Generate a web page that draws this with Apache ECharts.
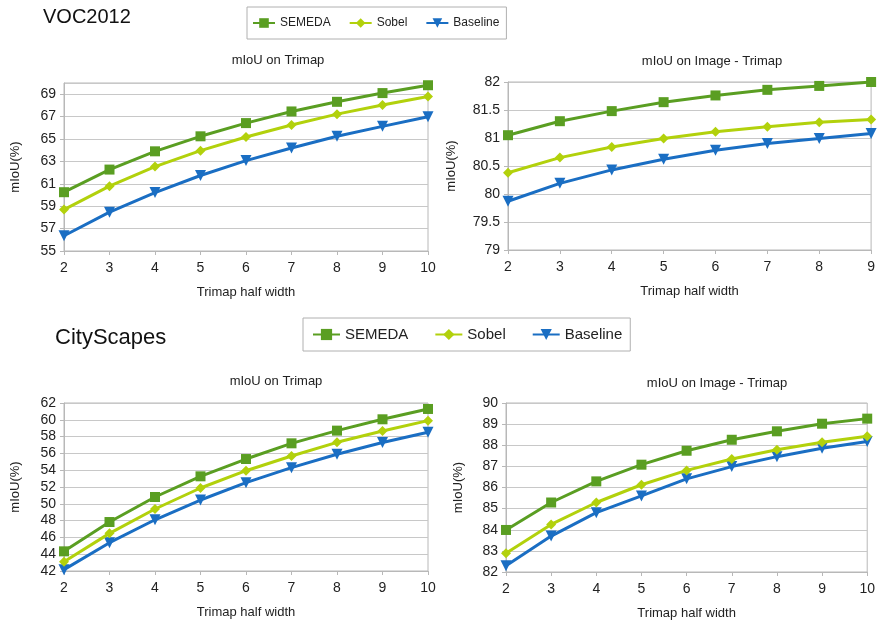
<!DOCTYPE html>
<html><head><meta charset="utf-8">
<script src="https://cdn.jsdelivr.net/npm/echarts@6/dist/echarts.min.js"></script>
<style>html,body{margin:0;padding:0;background:#fff}#c{width:878px;height:623px}</style>
</head><body><div id="c"></div>
<script>
// ---- data ----
const seriesNames = ['SEMEDA', 'Sobel', 'Baseline'];
const xVOC_trimap = ['2','3','4','5','6','7','8','9','10'];
const xVOC_image = ['2','3','4','5','6','7','8','9'];
const xCity = ['2','3','4','5','6','7','8','9','10'];

const vocTrimapSEMEDA = [60.25, 62.27, 63.9, 65.24, 66.42, 67.46, 68.32, 69.1, 69.8];
const vocTrimapSobel = [58.7, 60.79, 62.54, 63.96, 65.18, 66.25, 67.22, 68.03, 68.8];
const vocTrimapBaseline = [56.36, 58.47, 60.22, 61.74, 63.07, 64.2, 65.24, 66.13, 66.99];

const vocImageSEMEDA = [81.05, 81.30, 81.48, 81.64, 81.76, 81.86, 81.93, 82.0];
const vocImageSobel = [80.38, 80.65, 80.84, 80.99, 81.11, 81.20, 81.28, 81.33];
const vocImageBaseline = [79.87, 80.19, 80.43, 80.62, 80.78, 80.90, 80.99, 81.08];

const cityTrimapSEMEDA = [44.34, 47.83, 50.81, 53.27, 55.33, 57.2, 58.71, 60.06, 61.29];
const cityTrimapSobel = [43.11, 46.48, 49.38, 51.88, 53.94, 55.69, 57.32, 58.67, 59.9];
const cityTrimapBaseline = [42.16, 45.37, 48.1, 50.45, 52.52, 54.3, 55.9, 57.29, 58.52];

const cityImageSEMEDA = [83.99, 85.29, 86.29, 87.08, 87.74, 88.26, 88.66, 89.02, 89.26];
const cityImageSobel = [82.89, 84.25, 85.29, 86.13, 86.81, 87.35, 87.79, 88.14, 88.43];
const cityImageBaseline = [82.3, 83.7, 84.81, 85.6, 86.41, 86.99, 87.46, 87.86, 88.18];

const chartTitles = ['mIoU on Trimap', 'mIoU on Image - Trimap', 'mIoU on Trimap', 'mIoU on Image - Trimap'];
const xName = 'Trimap half width';
const yName = 'mIoU(%)';

// ---- styling ----
const FONT = '"Liberation Sans", Arial, sans-serif';
const colors = ['#5a9e22', '#b2d10c', '#1a6ec3'];
const symbols = ['rect', 'diamond', 'triangle'];
const symSizes = [10, 10, 11];
const symRot = [0, 0, 180];

const grids = [
  {left: 64, top: 83, width: 364, height: 168},
  {left: 508, top: 82, width: 364, height: 168},
  {left: 64, top: 403, width: 364, height: 168},
  {left: 506, top: 403, width: 363, height: 169}
];
const yCfg = [
  {min: 55, max: 70, interval: 2, hideMax: true, nameGap: 42},
  {min: 79, max: 82, interval: 0.5, hideMax: false, nameGap: 50},
  {min: 42, max: 62, interval: 2, hideMax: false, nameGap: 42},
  {min: 82, max: 90, interval: 1, hideMax: false, nameGap: 41}
];
const xCats = [xVOC_trimap, xVOC_image, xCity, xCity];
const dataSets = [
  [vocTrimapSEMEDA, vocTrimapSobel, vocTrimapBaseline],
  [vocImageSEMEDA, vocImageSobel, vocImageBaseline],
  [cityTrimapSEMEDA, cityTrimapSobel, cityTrimapBaseline],
  [cityImageSEMEDA, cityImageSobel, cityImageBaseline]
];

const gridOpts = grids.map(g => Object.assign({show: true, borderColor: '#b8b8b8', borderWidth: 1, backgroundColor: 'transparent'}, g));
const xAxes = xCats.map((cats, i) => ({
  type: 'category', gridIndex: i, data: cats, boundaryGap: false,
  name: xName, nameLocation: 'middle', nameGap: 35,
  nameTextStyle: {fontFamily: FONT, fontSize: 13, color: '#222'},
  axisLine: {lineStyle: {color: '#b8b8b8'}},
  axisTick: {show: true, length: 4, lineStyle: {color: '#b8b8b8'}, alignWithLabel: true},
  axisLabel: {fontFamily: FONT, fontSize: 14, color: '#222', margin: 10},
  splitLine: {show: false}
}));
const yAxes = yCfg.map((c, i) => ({
  type: 'value', gridIndex: i, min: c.min, max: c.max, interval: c.interval,
  name: yName, nameLocation: 'middle', nameGap: c.nameGap,
  nameTextStyle: {fontFamily: FONT, fontSize: 13, color: '#222'},
  axisLine: {show: true, lineStyle: {color: '#b8b8b8'}},
  axisTick: {show: true, length: 4, lineStyle: {color: '#b8b8b8'}},
  axisLabel: {fontFamily: FONT, fontSize: 14, color: '#222', margin: 8, showMaxLabel: !c.hideMax},
  splitLine: {show: true, lineStyle: {color: '#c8c8c8', width: 1}}
}));
const series = [];
dataSets.forEach((set, gi) => {
  set.forEach((vals, si) => {
    series.push({
      type: 'line', name: seriesNames[si], xAxisIndex: gi, yAxisIndex: gi,
      data: vals, symbol: symbols[si], symbolSize: symSizes[si], symbolRotate: symRot[si],
      showAllSymbol: true, z: 3 + (2 - si),
      lineStyle: {color: colors[si], width: 3},
      itemStyle: {color: colors[si]},
      emphasis: {disabled: true}
    });
  });
});

const titlePos = [[278, 60], [712, 61], [276, 381], [717, 383]];
const graphics = chartTitles.map((t, i) => ({
  type: 'text', x: titlePos[i][0], y: titlePos[i][1],
  style: {text: t, font: '13px ' + FONT, fill: '#222', textAlign: 'center', textVerticalAlign: 'middle'}
}));
graphics.push({type: 'text', x: 43, y: 17, style: {text: 'VOC2012', font: '20px ' + FONT, fill: '#111', textAlign: 'left', textVerticalAlign: 'middle'}});
graphics.push({type: 'text', x: 55, y: 338, style: {text: 'CityScapes', font: '22px ' + FONT, fill: '#111', textAlign: 'left', textVerticalAlign: 'middle'}});

const legendBase = {
  orient: 'horizontal', borderColor: '#b0b0b0', borderWidth: 1,
  data: seriesNames, selectedMode: false
};
const legends = [
  Object.assign({}, legendBase, {left: 247, top: 7, padding: [10, 7, 10, 5], itemWidth: 22, itemHeight: 12, itemGap: 18,
    textStyle: {fontFamily: FONT, fontSize: 12, color: '#222'}}),
  Object.assign({}, legendBase, {left: 303, top: 318, padding: [9, 8, 9, 9], itemWidth: 27, itemHeight: 14, itemGap: 26,
    textStyle: {fontFamily: FONT, fontSize: 15, color: '#222'}})
];

const chart = echarts.init(document.getElementById('c'), null, {renderer: 'canvas'});
chart.setOption({
  animation: false,
  backgroundColor: '#fff',
  grid: gridOpts, xAxis: xAxes, yAxis: yAxes, series: series,
  legend: legends, graphic: graphics
});
</script></body></html>
